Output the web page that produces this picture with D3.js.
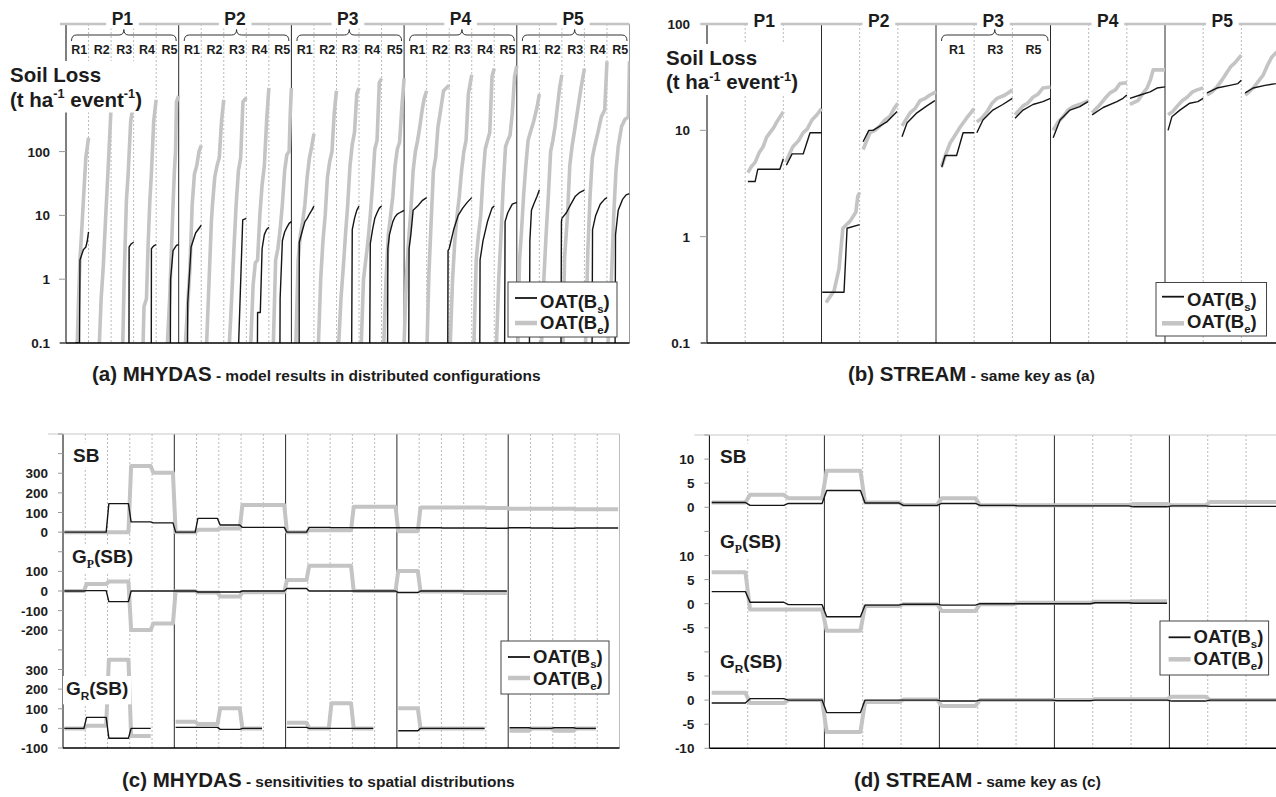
<!DOCTYPE html>
<html>
<head>
<meta charset="utf-8">
<script src="https://cdn.jsdelivr.net/npm/d3@7"></script>
<style>
  body { margin: 0; background: #fff; }
  svg text { font-family: "Liberation Sans", Arial, Helvetica, sans-serif; font-weight: bold; fill: #1c1c1c; }
</style>
</head>
<body>
<svg id="chart" width="1276" height="797"></svg>
<script>
// ---------- data ----------
const periods = ["P1", "P2", "P3", "P4", "P5"];
const runsA = ["R1", "R2", "R3", "R4", "R5"];
const runsB = ["R1", "R3", "R5"];
const logTicks = [0.1, 1, 10, 100];

// (a) MHYDAS soil loss, sorted per section P1R1..P5R5 : [rank fraction, t/ha/event]
const mhydasBe = [
  [[0.5,0.1],[0.56,0.5],[0.62,2],[0.7,6],[0.77,17],[0.88,80],[1,165]],
  [[0.48,0.1],[0.56,0.5],[0.65,1.5],[0.75,8],[0.85,40],[0.93,150],[1,500]],
  [[0.52,0.1],[0.58,1],[0.68,17],[0.76,46],[0.87,300],[1,600]],
  [[0.42,0.1],[0.46,0.37],[0.57,0.5],[0.64,3.2],[0.72,17],[0.79,46],[0.89,300],[1,650]],
  [[0.5,0.1],[0.6,0.5],[0.68,3],[0.75,15],[0.81,50],[0.86,100],[0.9,600],[1,750]],
  [[0.3,0.1],[0.4,0.4],[0.5,1.5],[0.6,15],[0.7,45],[0.8,60],[0.9,100],[1,125]],
  [[0.24,0.1],[0.35,1],[0.45,8],[0.5,15],[0.6,40],[0.7,60],[0.8,80],[0.9,300],[1,650]],
  [[0.25,0.1],[0.35,0.5],[0.45,3],[0.55,15],[0.65,50],[0.75,80],[0.85,600],[1,700]],
  [[0.2,0.1],[0.3,0.8],[0.4,1.8],[0.5,2],[0.6,10],[0.7,30],[0.8,60],[0.9,300],[1,1000]],
  [[0.2,0.1],[0.3,2],[0.4,3],[0.5,6],[0.6,15],[0.7,50],[0.8,90],[0.9,100],[0.95,400],[1,1000]],
  [[0.2,0.1],[0.3,2],[0.4,5],[0.5,8],[0.6,15],[0.7,40],[0.8,80],[0.9,120],[1,190]],
  [[0.2,0.1],[0.3,1],[0.4,4],[0.5,10],[0.6,40],[0.7,70],[0.8,100],[0.9,400],[1,900]],
  [[0.1,0.1],[0.2,0.5],[0.3,1.5],[0.4,5],[0.5,15],[0.6,60],[0.7,130],[0.8,200],[0.9,800],[1,1000]],
  [[0.1,0.1],[0.2,1],[0.3,2],[0.4,4],[0.5,10],[0.6,30],[0.7,110],[0.8,150],[0.9,1200],[1,1400]],
  [[0.1,0.1],[0.2,1],[0.3,5],[0.4,10],[0.5,20],[0.6,60],[0.7,110],[0.8,140],[0.9,500],[1,1400]],
  [[0,0.1],[0.1,1],[0.2,4],[0.3,12],[0.4,50],[0.5,100],[0.6,150],[0.7,250],[0.8,450],[0.9,700],[1,900]],
  [[0.02,0.1],[0.1,1.2],[0.2,8],[0.3,50],[0.4,80],[0.5,240],[0.6,400],[0.75,900],[1,1100]],
  [[0.05,0.1],[0.15,1],[0.25,4],[0.35,10],[0.45,20],[0.55,50],[0.65,100],[0.75,150],[0.85,800],[1,1600]],
  [[0.1,0.1],[0.2,2],[0.3,5],[0.4,10],[0.5,40],[0.6,110],[0.7,150],[0.8,200],[0.9,1500],[1,2000]],
  [[0.1,0.1],[0.2,1],[0.3,5],[0.4,30],[0.5,120],[0.6,150],[0.7,180],[0.8,400],[0.9,1500],[1,2200]],
  [[0.05,0.1],[0.12,2],[0.2,5],[0.3,20],[0.4,60],[0.5,150],[0.6,200],[0.75,300],[0.9,500],[1,800]],
  [[0.1,0.1],[0.2,1],[0.3,5],[0.4,20],[0.5,100],[0.6,150],[0.7,250],[0.8,500],[0.9,1000],[1,1600]],
  [[0.05,0.1],[0.12,2.2],[0.25,10],[0.35,60],[0.45,120],[0.55,200],[0.7,450],[0.85,1000],[1,2000]],
  [[0.05,0.1],[0.15,2.6],[0.25,20],[0.35,80],[0.45,120],[0.6,200],[0.75,350],[0.9,450],[1,2600]],
  [[0.05,0.1],[0.2,1],[0.3,10],[0.4,50],[0.5,120],[0.65,250],[0.8,320],[0.95,350],[1,2600]]
];
const mhydasBs = [
  [[0.42,0.1],[0.6,0.1],[0.62,2],[0.77,2.9],[0.88,3.2],[0.94,3.9],[1,5.5]],
  [],
  [[0.79,0.01],[0.8,3.2],[0.9,3.6],[1,3.8]],
  [[0.78,0.01],[0.79,3],[0.88,3.3],[1,3.5]],
  [[0.62,0.01],[0.64,1],[0.75,2.8],[0.9,3.4],[1,3.5]],
  [[0.38,0.01],[0.4,0.42],[0.55,3.2],[0.75,5.3],[1,7]],
  [],
  [[0.65,0.01],[0.66,0.1],[0.84,8.5],[1,9]],
  [[0.48,0.01],[0.5,0.3],[0.62,0.3],[0.7,3],[0.8,5],[0.9,6],[1,6.5]],
  [[0.48,0.01],[0.5,0.5],[0.6,4],[0.7,5.5],[0.8,6.5],[0.9,7.5],[1,8]],
  [[0.34,0.01],[0.35,3.8],[0.5,6],[0.6,8],[0.7,9],[0.8,10.5],[0.9,12],[1,14]],
  [],
  [[0.66,0.01],[0.7,6],[0.8,9],[0.9,12],[1,14]],
  [[0.46,0.01],[0.5,3.6],[0.6,6],[0.7,9],[0.8,11],[0.9,13],[1,14]],
  [[0.26,0.01],[0.28,3],[0.35,5],[0.5,8],[0.6,9.5],[0.7,10.5],[0.8,11],[0.9,11.5],[1,12]],
  [[0.2,0.01],[0.22,3],[0.3,5],[0.4,12],[0.6,14],[0.8,17],[1,19]],
  [[0.93,0.01],[0.95,2.8],[1,3]],
  [[0,3],[0.2,6],[0.4,10],[0.6,13],[0.8,16],[1,19]],
  [[0.35,0.01],[0.37,2],[0.5,4],[0.7,8],[0.9,13],[1,14]],
  [[0.45,0.01],[0.48,8],[0.6,11],[0.8,15],[1,16]],
  [[0.55,0.01],[0.58,4],[0.65,12],[0.75,15],[0.9,20],[1,25]],
  [[0.95,0.01],[0.98,8],[1,9]],
  [[0,9],[0.2,11],[0.4,15],[0.6,20],[0.8,23],[1,25]],
  [[0.33,0.01],[0.36,6],[0.5,10],[0.7,15],[0.9,18],[1,19]],
  [[0.35,0.01],[0.38,5],[0.5,12],[0.7,18],[0.85,21],[1,22]]
];

// (b) STREAM soil loss, sections P1R1, P1R3, P1R5, ... P5R5
const streamBe = [
  [],
  [[0.07,4],[0.17,4.6],[0.26,5],[0.37,6.2],[0.47,7],[0.56,8.6],[0.65,9.5],[0.74,10.5],[0.83,12],[1,15]],
  [[0.07,5],[0.16,6],[0.25,7],[0.4,8],[0.52,9.5],[0.62,10.2],[0.75,12.5],[0.88,14],[1,16]],
  [[0.12,0.24],[0.33,0.31],[0.46,0.5],[0.56,1.2],[0.75,1.4],[0.9,1.7],[0.95,2.4],[1,2.6]],
  [[0.09,6.6],[0.27,9.5],[0.4,10],[0.53,11],[0.66,12.5],[0.79,13.5],[0.9,16],[1,18]],
  [[0.11,11],[0.32,14.6],[0.45,16],[0.58,19],[0.72,20],[0.84,21.5],[1,23]],
  [[0.15,4.6],[0.26,6],[0.37,7.6],[0.5,9],[0.63,10.7],[0.8,13],[1,16]],
  [[0.07,12],[0.2,13],[0.34,15],[0.47,18],[0.6,20],[0.81,21.5],[1,24]],
  [[0.07,14],[0.28,17],[0.4,18],[0.54,20.5],[0.68,22],[0.8,25],[1,25.6]],
  [[0.07,10],[0.2,12],[0.33,13.4],[0.46,15.5],[0.59,16.7],[0.85,18],[1,19]],
  [[0.09,14.6],[0.3,17.5],[0.43,20],[0.56,22.5],[0.7,24],[0.82,27.5],[1,28]],
  [[0.08,17.5],[0.29,19],[0.41,22],[0.53,25],[0.62,30],[0.69,37],[1,37]],
  [[0.08,14],[0.2,15],[0.31,16.7],[0.45,19],[0.58,20.5],[0.72,23],[0.84,24],[1,25]],
  [[0.1,21.5],[0.23,23],[0.36,25.6],[0.5,30],[0.62,35],[0.73,40],[0.83,43],[1,51]],
  [[0.1,21.5],[0.2,23],[0.31,25],[0.45,29],[0.57,33],[0.7,42],[0.8,49],[1,58]]
];
const streamBs = [
  [],
  [[0.07,3.3],[0.26,3.3],[0.33,4.3],[0.91,4.3],[1,5.4]],
  [[0.08,4.7],[0.23,6],[0.52,6],[0.7,9.5],[1,9.5]],
  [[0.02,0.3],[0.59,0.3],[0.67,1.2],[1,1.3]],
  [[0.09,7.8],[0.24,10],[0.35,10],[0.71,12],[0.98,15]],
  [[0.11,8.7],[0.24,11.7],[0.5,14.6],[0.76,17],[0.97,19]],
  [[0.15,4.5],[0.24,5.8],[0.54,5.8],[0.71,9.5],[1,9.5]],
  [[0.07,9.5],[0.23,12.5],[0.49,15.5],[0.75,17.5],[1,20]],
  [[0.07,13],[0.28,15.5],[0.54,17.5],[0.8,18.6],[1,20]],
  [[0.07,8.5],[0.25,12.5],[0.51,15.5],[0.77,16.7],[0.98,18.6]],
  [[0.09,14],[0.38,16.4],[0.74,18.6],[0.9,20],[1,21.5]],
  [[0.08,20],[0.35,21.5],[0.61,23],[0.79,25],[1,25.6]],
  [[0.08,10],[0.18,13.4],[0.39,15.5],[0.65,18],[0.86,18.6],[1,20]],
  [[0.1,22.5],[0.36,25],[0.7,26.5],[0.91,27.5],[1,29.6]],
  [[0.1,22.5],[0.31,25],[0.62,26.5],[0.91,27.5],[1,28]]
];

// (c) MHYDAS sensitivities, one value per section P1R1..P5R5 (null = none)
const mhSB_Bs = [0,0,145,52,47, 0,70,36,24,24, 0,24,23,22,22, 22,22,21,21,20, 22,21,20,21,21];
const mhSB_Be = [0,0,0,337,302, 0,12,19,138,138, 0,10,10,129,129, 5,126,125,125,123, 119,119,119,116,116];
const mhGP_Bs = [0,2,-54,0,0, 0,-5,-5,0,0, 13,0,0,0,0, -8,0,0,0,0, null,null,null,null,null];
const mhGP_Be = [0,36,48,-199,-165, 0,-8,-28,-6,-6, 56,129,129,0,0, 102,-3,-3,-10,-10, null,null,null,null,null];
const mhGR_Bs = [0,56,-50,0,null, 5,5,-5,0,null, 5,0,0,0,null, -12,0,0,0,null, 3,0,3,0,null];
const mhGR_Be = [0,14,350,-39,null, 34,22,102,0,null, 29,0,128,0,null, 102,0,0,0,null, -12,0,-12,0,null];
const sbTicksC = [0, 100, 200, 300];
const gpTicksC = [-200, -100, 0, 100];
const grTicksC = [-100, 0, 100, 200, 300];

// (d) STREAM sensitivities, sections P1R1, P1R3, P1R5, ...
const stSB_Bs = [1.0,0.4,0.8, 3.5,0.9,0.4, 0.8,0.4,0.3, 0.3,0.3,0.1, 0.3,0.2,0.2];
const stSB_Be = [1.0,2.6,1.9, 7.6,1.0,0.5, 1.9,0.4,0.4, 0.4,0.5,0.7, 0.4,1.1,1.1];
const stGP_Bs = [2.5,0.3,-0.2, -2.7,-0.3,-0.1, -0.3,0,0, 0,0.2,0.1, null,null,null];
const stGP_Be = [6.5,-1.2,-1.2, -5.6,-0.5,-0.1, -1.5,-0.1,0.2, 0.2,0.4,0.5, null,null,null];
const stGR_Bs = [-0.6,0.3,0, -2.6,0,0, -0.2,0,0, -0.1,0,0, -0.2,0,0];
const stGR_Be = [1.5,-0.6,0, -6.6,-0.4,0.1, -1.2,0,0, 0,0.2,0.2, 0.7,0,0];
const sbTicksD = [0, 5, 10];
const gpTicksD = [-5, 0, 5, 10];
const grTicksD = [-10, -5, 0, 5];

// ---------- helpers ----------
const svg = d3.select("#chart");
const INK = "#151515", LIGHT = "#c4c4c4";

function richText(g, x, y, size, parts, anchor) {
  const t = g.append("text").attr("x", x).attr("y", y).style("font-size", size + "px");
  if (anchor) t.attr("text-anchor", anchor);
  let shift = 0;
  parts.forEach(p => {
    const s = typeof p === "string" ? { t: p } : p;
    const target = s.sub ? size * 0.28 : s.sup ? -size * 0.4 : 0;
    const ts = t.append("tspan").text(s.t).attr("dy", target - shift);
    shift = target;
    if (s.sub || s.sup) ts.style("font-size", (size * 0.62) + "px");
    if (s.size) ts.style("font-size", s.size + "px");
    if (s.serif) ts.style("font-family", "'Liberation Serif', 'DejaVu Serif', serif");
  });
  return t;
}

function label(g, x, y, size, parts, pad, anchor) {
  const gg = g.append("g");
  const r = gg.append("rect").attr("fill", "#fff");
  const t = richText(gg, x, y, size, parts, anchor);
  const b = t.node().getBBox();
  r.attr("x", b.x - pad[0]).attr("y", b.y - pad[1])
   .attr("width", b.width + 2 * pad[0]).attr("height", b.height + 2 * pad[1]);
  return gg;
}

function grid(g, x, n, per, y0, y1, edgeColor) {
  d3.range(n + 1).forEach(k => {
    const solid = k % per === 0;
    g.append("line")
      .attr("x1", x(k)).attr("x2", x(k)).attr("y1", y0).attr("y2", y1)
      .attr("stroke", k === n ? edgeColor : solid ? (k === 0 ? "#000" : "#2a2a2a") : "#a8a8a8")
      .attr("stroke-width", solid ? 1 : 0.8)
      .attr("stroke-dasharray", solid ? null : "2,2");
  });
}

function bracePath(x0, x1) {
  const cx = (x0 + x1) / 2;
  return `M${x0},41 Q${x0},35 ${x0 + 5},35 L${cx - 5},35 Q${cx},35 ${cx},29.5 ` +
         `Q${cx},35 ${cx + 5},35 L${x1 - 5},35 Q${x1},35 ${x1},41`;
}

function header(g, x, per, xStart, xEnd, labelY, braces, runs) {
  g.append("line").attr("x1", xStart).attr("x2", xEnd).attr("y1", 24).attr("y2", 24)
    .attr("stroke", LIGHT).attr("stroke-width", 2.5);
  periods.forEach((p, k) => label(g, x(k * per + per / 2), labelY, 17.5, [p], [5.5, 0], "middle"));
  braces.forEach(k => {
    g.append("path").attr("d", bracePath(x(k * per) + 5.5, x(k * per + per) - 2.5))
      .attr("fill", "none").attr("stroke", "#333").attr("stroke-width", 1);
    runs.forEach((r, j) => richText(g, x(k * per + j + 0.5) + 2, 54, 12.5, [r], "middle"));
  });
}

function legend(g, bx, by, bw, bh, lx, ly1, ly2, ty1, ty2) {
  g.append("rect").attr("x", bx).attr("y", by).attr("width", bw).attr("height", bh)
    .attr("fill", "#fff").attr("stroke", "#444").attr("stroke-width", 1);
  g.append("line").attr("x1", lx).attr("x2", lx + 22).attr("y1", ly1).attr("y2", ly1)
    .attr("stroke", INK).attr("stroke-width", 1.8);
  g.append("line").attr("x1", lx).attr("x2", lx + 22).attr("y1", ly2).attr("y2", ly2)
    .attr("stroke", LIGHT).attr("stroke-width", 4.5);
  richText(g, lx + 25, ty1, 18.5, ["OAT(B", { t: "s", sub: true }, ")"]);
  richText(g, lx + 25, ty2, 18.5, ["OAT(B", { t: "e", sub: true }, ")"]);
}

function caption(g, x, y, big, small) {
  richText(g, x, y, 20.5, [big, { t: small, size: 15.5 }]);
}

function soilLossLabel(g, x, y1, y2) {
  const gg = g.append("g");
  const r = gg.append("rect").attr("fill", "#fff");
  const t1 = richText(gg, x, y1, 20.5, ["Soil Loss"]);
  const t2 = richText(gg, x, y2, 20.5, ["(t ha", { t: "-1", sup: true }, " event", { t: "-1", sup: true }, ")"]);
  const a = t1.node().getBBox(), b = t2.node().getBBox();
  const x0 = Math.min(a.x, b.x) - 3, x1 = Math.max(a.x + a.width, b.x + b.width) + 2;
  r.attr("x", x0).attr("y", a.y - 2).attr("width", x1 - x0).attr("height", b.y + b.height - a.y + 4);
}

function logPanel(id, x, y, per, x0, x1, curvesBe, curvesBs, tickX) {
  const g = svg.append("g");
  grid(g, x, x.domain()[1], per, 24, 343, "#9a9a9a");
  const cid = "clip" + id;
  g.append("clipPath").attr("id", cid).append("rect")
    .attr("x", x0).attr("y", 0).attr("width", x1 - x0).attr("height", 343);
  const curves = g.append("g").attr("clip-path", `url(#${cid})`);
  const line = d3.line().x(d => x(d.x)).y(d => y(Math.max(d.v, 0.001)));
  [[curvesBe, LIGHT, 3.6], [curvesBs, INK, 1.4]].forEach(([set, color, w]) => {
    set.forEach((pts, i) => {
      if (!pts.length) return;
      curves.append("path")
        .datum(pts.map(p => ({ x: i + p[0], v: p[1] })))
        .attr("d", line).attr("fill", "none")
        .attr("stroke", color).attr("stroke-width", w)
        .attr("stroke-linejoin", "round").attr("stroke-linecap", "butt");
    });
  });
  g.append("line").attr("x1", x0 - 6).attr("x2", x1).attr("y1", 343).attr("y2", 343)
    .attr("stroke", "#000").attr("stroke-width", 1.5);
  logTicks.forEach(v => {
    g.append("line").attr("x1", x0 - 7).attr("x2", x0).attr("y1", y(v)).attr("y2", y(v))
      .attr("stroke", "#999");
    richText(g, tickX, y(v) + 5, 13.5, [d3.format("~g")(v)], "end");
  });
  return g;
}

function stackPanel(x, y, per, x0, x1, yTop, yBot, series, ticks, labels) {
  const g = svg.append("g");
  grid(g, x, x.domain()[1], per, yTop, yBot, "#bdbdbd");
  g.append("line").attr("x1", x0 - 15).attr("x2", x1).attr("y1", yTop).attr("y2", yTop)
    .attr("stroke", "#c8c8c8").attr("stroke-width", 1.2);
  g.append("line").attr("x1", x0).attr("x2", x1).attr("y1", yBot).attr("y2", yBot)
    .attr("stroke", "#000").attr("stroke-width", 1.5);
  ticks.all.forEach(u => {
    g.append("line").attr("x1", x0 - 5).attr("x2", x0).attr("y1", y(u)).attr("y2", y(u))
      .attr("stroke", "#999");
  });
  ticks.labelled.forEach(([vals, off]) => vals.forEach(v =>
    richText(g, x0 - 15, y(v + off) + 5, 13.5, [String(v)], "end")));
  const line = d3.line().defined(d => d.v != null).x(d => x(d.x)).y(d => y(d.v));
  series.forEach(([vals, off, color, w]) => {
    const pts = [];
    vals.forEach((v, i) => {
      if (v == null) pts.push({ x: i + 0.5, v: null });
      else { pts.push({ x: i + 0.06, v: v + off }); pts.push({ x: i + 0.94, v: v + off }); }
    });
    g.append("path").attr("d", line(pts)).attr("fill", "none")
      .attr("stroke", color).attr("stroke-width", w).attr("stroke-linejoin", "round");
  });
  labels.forEach(([lx, ly, parts]) => label(g, lx, ly, 19, parts, [3, 2]));
  return g;
}

// ---------- (a) MHYDAS ----------
const xA = d3.scaleLinear().domain([0, 25]).range([66, 629.5]);
const yA = d3.scaleLog().domain([0.1, 10000]).range([343, 24]);
const gA = logPanel("A", xA, yA, 5, 66, 629.5, mhydasBe, mhydasBs, 50);
soilLossLabel(gA, 10, 82, 106.5);
header(gA, xA, 5, 60, 629.5, 24.5, [0, 1, 2, 3, 4], runsA);
legend(gA, 508, 282, 109, 55, 515, 298, 323, 307.5, 329);
caption(gA, 92, 381, "(a) MHYDAS", " - model results in distributed configurations");

// ---------- (b) STREAM ----------
const xB = d3.scaleLinear().domain([0, 15]).range([707, 1279.5]);
const yB = d3.scaleLog().domain([0.1, 100]).range([343, 24]);
const gB = logPanel("B", xB, yB, 3, 707, 1279.5, streamBe, streamBs, 690);
soilLossLabel(gB, 666, 65, 89);
header(gB, xB, 3, 701, 1276, 26.5, [2], runsB);
legend(gB, 1156, 282.5, 110.5, 53.5, 1162, 296.7, 323.3, 306, 328);
caption(gB, 848, 381, "(b) STREAM", " - same key as (a)");

// ---------- (c) MHYDAS sensitivities ----------
const xC = d3.scaleLinear().domain([0, 25]).range([63, 619.5]);
const yC = d3.scaleLinear().domain([-100, 1500]).range([748, 434]);
const gC = stackPanel(xC, yC, 5, 63, 619.5, 434, 748,
  [[mhSB_Be, 1000, LIGHT, 4], [mhGP_Be, 700, LIGHT, 4], [mhGR_Be, 0, LIGHT, 4],
   [mhSB_Bs, 1000, INK, 1.4], [mhGP_Bs, 700, INK, 1.4], [mhGR_Bs, 0, INK, 1.4]],
  { all: d3.range(-100, 1501, 100), labelled: [[grTicksC, 0], [gpTicksC, 700], [sbTicksC, 1000]] },
  [[73, 461.5, ["SB"]],
   [72, 563, ["G", { t: "P", sub: true, serif: true }, "(SB)"]],
   [66, 695, ["G", { t: "R", sub: true }, "(SB)"]]]);
legend(gC, 501, 641, 108, 53, 508, 657, 678, 663, 685);
caption(gC, 122, 787, "(c) MHYDAS", " - sensitivities to spatial distributions");

// ---------- (d) STREAM sensitivities ----------
const xD = d3.scaleLinear().domain([0, 15]).range([709.4, 1284.4]);
const yD = d3.scaleLinear().domain([-10, 55]).range([748.3, 435]);
const gD = stackPanel(xD, yD, 3, 709.4, 1284.4, 435, 748.3,
  [[stSB_Be, 40, LIGHT, 4], [stGP_Be, 20, LIGHT, 4], [stGR_Be, 0, LIGHT, 4],
   [stSB_Bs, 40, INK, 1.4], [stGP_Bs, 20, INK, 1.4], [stGR_Bs, 0, INK, 1.4]],
  { all: d3.range(-10, 56, 5), labelled: [[grTicksD, 0], [gpTicksD, 20], [sbTicksD, 40]] },
  [[720, 462.5, ["SB"]],
   [720, 548, ["G", { t: "P", sub: true, serif: true }, "(SB)"]],
   [720, 668, ["G", { t: "R", sub: true }, "(SB)"]]]);
legend(gD, 1160, 621, 108.6, 54, 1168.6, 637.3, 659.3, 643.3, 665);
caption(gD, 854, 787, "(d) STREAM", " - same key as (c)");
</script>
</body>
</html>
